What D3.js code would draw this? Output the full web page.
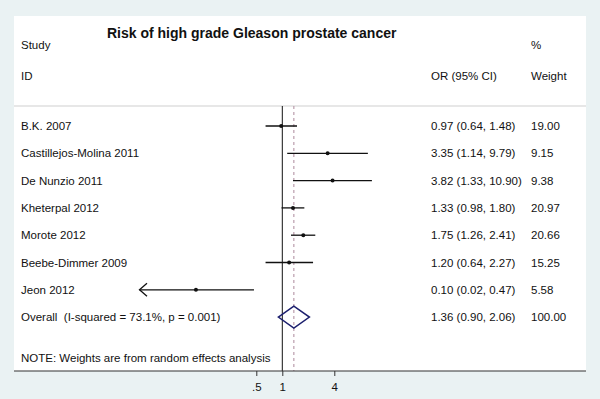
<!DOCTYPE html>
<html lang="en">
<head>
    <meta charset="UTF-8">
    <title>Forest plot</title>
    <script src="https://d3js.org/d3.v7.min.js"></script>
    <style>
        body { margin: 0; background: #eaf2f3; }
        text { font-family: "Liberation Sans", Arial, sans-serif; fill: #111; white-space: pre; }
        .lbl { font-size: 11.5px; }
        .title { font-size: 14px; font-weight: bold; }
    </style>
</head>
<body>
<script>
    const width  = 600;
    const height = 399;

    // study rows
    const studies = ["B.K. 2007", "Castillejos-Molina 2011", "De Nunzio 2011", "Kheterpal 2012",
                     "Morote 2012", "Beebe-Dimmer 2009", "Jeon 2012"];
    const orVals  = [0.97, 3.35, 3.82, 1.33, 1.75, 1.20, 0.10];
    const ciLow   = [0.64, 1.14, 1.33, 0.98, 1.26, 0.64, 0.02];
    const ciHigh  = [1.48, 9.79, 10.90, 1.80, 2.41, 2.27, 0.47];
    const weights = [19.00, 9.15, 9.38, 20.97, 20.66, 15.25, 5.58];

    // pooled estimate
    const overallLabel = "Overall  (I-squared = 73.1%, p = 0.001)";
    const overall = [1.36, 0.90, 2.06];
    const overallWeight = 100.00;

    const tickVals   = [0.5, 1, 4];
    const tickLabels = [".5", "1", "4"];

    const panel = {left: 14, right: 586, top: 16, bottom: 371};
    const fmt = d3.format(".2f");

    const svg = d3.select("body").append("svg").attr("width", width).attr("height", height);

    svg.append("rect")
        .attr("x", panel.left).attr("y", panel.top)
        .attr("width", panel.right - panel.left).attr("height", panel.bottom - panel.top)
        .attr("fill", "white");

    const x = d3.scaleLog().base(2).domain([1, 4]).range([282.3, 334.3]);
    const xMin = x.invert(139.5);

    // row positions (7 studies + overall + gap + note)
    const y = d3.scaleLinear().domain([0, 1]).range([126, 153.3]);

    const rows = studies.map((s, i) => ({
        name: s, or: orVals[i], lo: ciLow[i], hi: ciHigh[i], w: weights[i], i: i
    }));

    // header
    svg.append("text").attr("class", "title").attr("x", 107).attr("y", 38)
        .text("Risk of high grade Gleason prostate cancer");
    svg.append("text").attr("class", "lbl").attr("x", 21).attr("y", 49).text("Study");
    svg.append("text").attr("class", "lbl").attr("x", 21).attr("y", 80).text("ID");
    svg.append("text").attr("class", "lbl").attr("x", 431).attr("y", 80).text("OR (95% CI)");
    svg.append("text").attr("class", "lbl").attr("x", 531).attr("y", 49).text("%");
    svg.append("text").attr("class", "lbl").attr("x", 531).attr("y", 80).text("Weight");

    svg.append("line")
        .attr("x1", panel.left).attr("x2", panel.right)
        .attr("y1", 106).attr("y2", 106)
        .attr("stroke", "#cfcfcf").attr("stroke-width", 1);

    // null line and pooled line
    svg.append("line")
        .attr("x1", x(1)).attr("x2", x(1))
        .attr("y1", 106).attr("y2", panel.bottom)
        .attr("stroke", "#111").attr("stroke-width", 1);
    svg.append("line")
        .attr("x1", x(overall[0])).attr("x2", x(overall[0]))
        .attr("y1", 106).attr("y2", panel.bottom)
        .attr("stroke", "#bb9dac").attr("stroke-width", 1.2)
        .attr("stroke-dasharray", "3,3");

    // CI lines
    svg.selectAll("line.ci")
        .data(rows)
        .join("line").attr("class", "ci")
        .attr("x1", d => x(Math.max(d.lo, xMin)))
        .attr("x2", d => x(d.hi))
        .attr("y1", d => y(d.i)).attr("y2", d => y(d.i))
        .attr("stroke", "#111").attr("stroke-width", 1.3);

    // arrows for clipped CIs
    svg.selectAll("path.arrow")
        .data(rows.filter(d => d.lo < xMin))
        .join("path").attr("class", "arrow")
        .attr("d", d => {
            const x0 = x(xMin), y0 = y(d.i);
            return `M${x0 + 7.5},${y0 - 6.5}L${x0},${y0}L${x0 + 7.5},${y0 + 6.5}`;
        })
        .attr("fill", "none").attr("stroke", "#111").attr("stroke-width", 1.3);

    svg.selectAll("circle.pt")
        .data(rows)
        .join("circle").attr("class", "pt")
        .attr("cx", d => x(d.or)).attr("cy", d => y(d.i))
        .attr("r", 2).attr("fill", "#111");

    // labels
    svg.selectAll("text.name")
        .data(rows)
        .join("text").attr("class", "name lbl")
        .attr("x", 21).attr("y", d => y(d.i) + 4)
        .text(d => d.name);
    svg.selectAll("text.est")
        .data(rows)
        .join("text").attr("class", "est lbl")
        .attr("x", 431).attr("y", d => y(d.i) + 4)
        .text(d => `${fmt(d.or)} (${fmt(d.lo)}, ${fmt(d.hi)})`);
    svg.selectAll("text.wt")
        .data(rows)
        .join("text").attr("class", "wt lbl")
        .attr("x", 531).attr("y", d => y(d.i) + 4)
        .text(d => fmt(d.w));

    // overall
    const oy = y(7);
    svg.append("path")
        .attr("d", `M${x(overall[1])},${oy}L${x(overall[0])},${oy - 11}L${x(overall[2])},${oy}L${x(overall[0])},${oy + 11}Z`)
        .attr("fill", "none").attr("stroke", "#1c1f6e").attr("stroke-width", 1.5);
    svg.append("text").attr("class", "lbl").attr("x", 21).attr("y", oy + 4)
        .attr("xml:space", "preserve").text(overallLabel);
    svg.append("text").attr("class", "lbl").attr("x", 431).attr("y", oy + 4)
        .text(`${fmt(overall[0])} (${fmt(overall[1])}, ${fmt(overall[2])})`);
    svg.append("text").attr("class", "lbl").attr("x", 531).attr("y", oy + 4).text(fmt(overallWeight));

    svg.append("text").attr("class", "lbl").attr("x", 21).attr("y", y(8.5) + 4)
        .text("NOTE: Weights are from random effects analysis");

    // bottom axis
    svg.append("line")
        .attr("x1", panel.left).attr("x2", panel.right)
        .attr("y1", panel.bottom).attr("y2", panel.bottom)
        .attr("stroke", "#333").attr("stroke-width", 1.2);

    const axis = svg.append("g")
        .attr("transform", `translate(0,${panel.bottom})`)
        .call(d3.axisBottom(x).tickValues(tickVals)
            .tickFormat((d, i) => tickLabels[i]).tickSize(5).tickSizeOuter(0));
    axis.select(".domain").remove();
    axis.selectAll(".tick line").attr("stroke", "#333");
    axis.selectAll(".tick text")
        .attr("font-size", "11.5px").attr("font-family", "Liberation Sans, Arial, sans-serif")
        .attr("fill", "#111").attr("dy", "1.05em");
</script>
</body>
</html>
